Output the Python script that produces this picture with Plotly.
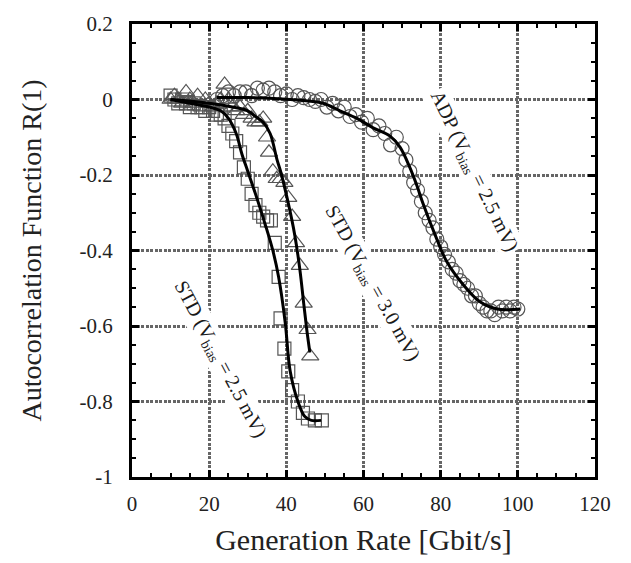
import plotly.graph_objects as go

# STD (Vbias = 2.5 mV) - squares
sq_x = [10, 11, 12, 13, 14, 15, 16, 17, 18, 19, 20, 21, 22, 23, 24, 25, 26, 27, 28, 29,
        30, 31, 32, 33, 34, 35, 36, 37, 38, 38.5, 39.5, 40.5, 41.5, 43, 44.3, 45.6, 47.4, 49.2]
sq_y = [0.01, 0.0, -0.01, 0.0, -0.01, -0.02, -0.01, -0.02, -0.02, -0.03, -0.02, -0.03, -0.04, -0.04,
        -0.05, -0.07, -0.09, -0.11, -0.14, -0.18, -0.21, -0.25, -0.28, -0.30, -0.31, -0.32, -0.32,
        -0.38, -0.47, -0.58, -0.66, -0.72, -0.77, -0.80, -0.83, -0.845, -0.85, -0.85]
sq_fit_x = [10, 15, 20, 23, 25, 27, 28.5, 30, 32, 34.5, 36.5, 38, 39.7, 41, 43, 44.8, 46.5, 49]
sq_fit_y = [0, -0.01, -0.02, -0.03, -0.05, -0.09, -0.145, -0.19, -0.25, -0.33, -0.40, -0.47,
            -0.59, -0.72, -0.80, -0.84, -0.85, -0.85]

# STD (Vbias = 3.0 mV) - triangles
tr_x = [10, 11, 12, 13, 14, 15, 16, 17, 18, 19, 20, 21, 22, 23, 24, 25, 26, 27, 28, 29,
        30, 31, 32, 33, 34, 35, 35.5, 36.5, 37.5, 38.5, 39.5, 40.5, 41.5, 42.5, 43.5, 44.5, 45.5, 46.2]
tr_y = [0.0, 0.01, 0.0, -0.01, 0.02, 0.0, -0.01, 0.01, -0.02, 0.0, -0.01, -0.02, -0.01, 0.0,
        0.04, 0.0, -0.02, -0.03, -0.02, -0.04, -0.03, -0.05, -0.06, -0.06, -0.05, -0.10, -0.14,
        -0.19, -0.21, -0.21, -0.22, -0.26, -0.31, -0.38, -0.44, -0.54, -0.61, -0.68]
tr_fit_x = [10, 20, 26, 30, 32, 34, 35.8, 37.6, 38.5, 40.4, 42.2, 43.5, 44.5, 45.3, 46.1]
tr_fit_y = [0, -0.01, -0.02, -0.03, -0.045, -0.06, -0.09, -0.16, -0.19, -0.27, -0.36, -0.45,
            -0.54, -0.61, -0.67]

# ADP (Vbias = 2.5 mV) - circles
ci_x = [22, 23.5, 25, 26.5, 28, 29.5, 31, 32.5, 34, 35.5, 37, 38.5, 40, 41.5, 43, 44.5, 46,
        47.5, 49, 50.5, 52, 53.5, 55, 56.5, 58, 59.5, 61, 62.5, 64, 65.5, 67, 68.5, 70, 71, 72,
        73, 74, 75, 76, 77, 78, 79, 80, 81, 82, 83, 84, 85, 86, 87, 88, 89, 90, 91, 92, 93, 94,
        95, 96, 97, 98, 99, 100]
ci_y = [0.0, 0.01, 0.02, 0.01, 0.02, 0.02, 0.01, 0.03, 0.025, 0.03, 0.02, 0.01, 0.015, 0.0,
        0.01, 0.005, 0.0, -0.005, 0.0, -0.02, -0.01, -0.03, -0.02, -0.045, -0.04, -0.06, -0.05,
        -0.08, -0.07, -0.09, -0.12, -0.10, -0.13, -0.16, -0.19, -0.22, -0.24, -0.27, -0.30, -0.32,
        -0.34, -0.37, -0.39, -0.41, -0.43, -0.45, -0.46, -0.48, -0.49, -0.50, -0.52, -0.52, -0.54,
        -0.55, -0.56, -0.56, -0.57, -0.55, -0.56, -0.55, -0.56, -0.55, -0.555]
ci_fit_x = [22, 30, 41, 49.5, 53.9, 58.3, 62.5, 66.9, 69.5, 72, 73.9, 75.4, 79, 81.6, 85.8,
            90.2, 94.6, 100.6]
ci_fit_y = [0.005, 0.005, 0, -0.01, -0.03, -0.05, -0.075, -0.097, -0.127, -0.18, -0.23, -0.275,
            -0.37, -0.43, -0.49, -0.536, -0.555, -0.555]

x_ticks = [0, 20, 40, 60, 80, 100, 120]
y_ticks = [0.2, 0, -0.2, -0.4, -0.6, -0.8, -1]
y_tick_text = ["0.2", "0", "-0.2", "-0.4", "-0.6", "-0.8", "-1"]

mk_col = "#555555"
fig = go.Figure()
fig.add_trace(go.Scatter(x=sq_x, y=sq_y, mode="markers",
                         marker=dict(symbol="square-open", size=13, color=mk_col, line=dict(width=1.2))))
fig.add_trace(go.Scatter(x=tr_x, y=tr_y, mode="markers",
                         marker=dict(symbol="triangle-up-open", size=15, color=mk_col, line=dict(width=1.2))))
fig.add_trace(go.Scatter(x=ci_x, y=ci_y, mode="markers",
                         marker=dict(symbol="circle-open", size=14, color=mk_col, line=dict(width=1.2))))
for fx, fy in [(sq_fit_x, sq_fit_y), (tr_fit_x, tr_fit_y), (ci_fit_x, ci_fit_y)]:
    fig.add_trace(go.Scatter(x=fx, y=fy, mode="lines", line=dict(color="black", width=3, shape="spline")))

font_fam = "Liberation Serif, Times New Roman, serif"
ann_font = dict(family=font_fam, size=20, color="#1a1a1a")
annotations = [
    dict(x=88.6, y=-0.19, text="ADP (V<sub>bias</sub> = 2.5 mV)", textangle=64),
    dict(x=62.2, y=-0.487, text="STD (V<sub>bias</sub> = 3.0 mV)", textangle=61),
    dict(x=22.8, y=-0.688, text="STD (V<sub>bias</sub> = 2.5 mV)", textangle=62),
]
for a in annotations:
    fig.add_annotation(**a, xref="x", yref="y", showarrow=False, font=ann_font, bgcolor="white")

axis_common = dict(
    showline=True, linecolor="black", linewidth=3, mirror="allticks",
    ticks="inside", ticklen=7, tickwidth=3, tickcolor="black",
    showgrid=True, gridcolor="#666666", gridwidth=2.5, griddash="3px,1.5px",
    zeroline=False,
    tickfont=dict(family=font_fam, size=21, color="#222222"),
)
fig.update_xaxes(**axis_common, range=[0, 120], tickvals=x_ticks, ticklabelstandoff=6,
                 minor=dict(ticks="inside", ticklen=4, tickwidth=2, tickcolor="black", dtick=5, showgrid=False),
                 title=dict(text="Generation Rate [Gbit/s]", font=dict(family=font_fam, size=30, color="#222222"),
                            standoff=14))
fig.update_yaxes(**axis_common, range=[-1, 0.2], tickvals=y_ticks, ticktext=y_tick_text, ticklabelstandoff=12,
                 minor=dict(ticks="inside", ticklen=4, tickwidth=2, tickcolor="black", dtick=0.05, showgrid=False),
                 title=dict(text="Autocorrelation Function R(1)", font=dict(family=font_fam, size=28, color="#222222"),
                            standoff=30))
fig.update_layout(width=631, height=563, showlegend=False,
                  plot_bgcolor="white", paper_bgcolor="white",
                  margin=dict(l=132, r=36, t=17, b=86))
fig.write_html("out.html")
